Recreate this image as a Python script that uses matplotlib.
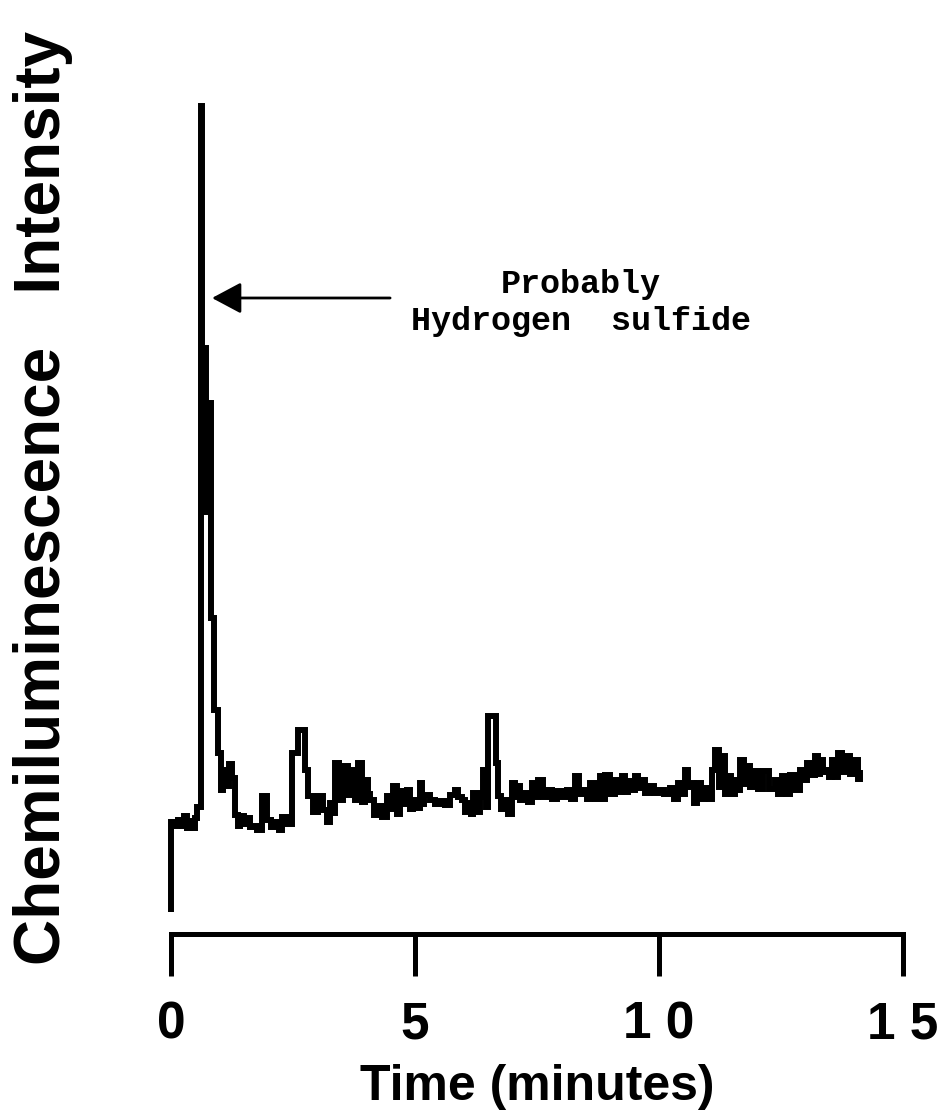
import matplotlib
matplotlib.use("Agg")
import matplotlib.pyplot as plt

# Chemiluminescence detector trace (arbitrary intensity units) vs. time
time_min = [
    0.00, 0.01, 0.08, 0.14, 0.23, 0.27, 0.33, 0.39, 0.45, 0.49, 0.53,
    0.61, 0.64, 0.72, 0.76, 0.82, 0.88, 0.96, 1.02, 1.07, 1.13, 1.19,
    1.25, 1.31, 1.37, 1.41, 1.50, 1.56, 1.62, 1.68, 1.76, 1.86, 1.97,
    2.05, 2.15, 2.21, 2.27, 2.38, 2.48, 2.60, 2.75, 2.81, 2.91, 3.01,
    3.11, 3.20, 3.26, 3.32, 3.36, 3.44, 3.52, 3.63, 3.67, 3.77, 3.83,
    3.91, 3.98, 4.04, 4.08, 4.16, 4.24, 4.32, 4.43, 4.49, 4.55, 4.63,
    4.69, 4.77, 4.84, 4.90, 4.96, 5.04, 5.10, 5.14, 5.18, 5.31, 5.41,
    5.51, 5.61, 5.72, 5.82, 5.88, 5.96, 6.02, 6.09, 6.15, 6.19, 6.29,
    6.33, 6.39, 6.45, 6.50, 6.66, 6.70, 6.76, 6.84, 6.91, 6.99, 7.05,
    7.09, 7.15, 7.21, 7.32, 7.40, 7.46, 7.52, 7.62, 7.70, 7.81, 7.91,
    8.01, 8.11, 8.20, 8.28, 8.36, 8.44, 8.52, 8.59, 8.69, 8.79, 8.85,
    8.89, 9.00, 9.10, 9.16, 9.24, 9.30, 9.36, 9.45, 9.51, 9.57, 9.61,
    9.71, 9.82, 9.90, 9.98, 10.10, 10.23, 10.31, 10.39, 10.47, 10.53,
    10.59, 10.64, 10.72, 10.78, 10.86, 10.94, 11.02, 11.09, 11.15, 11.23,
    11.29, 11.35, 11.39, 11.48, 11.56, 11.62, 11.66, 11.74, 11.80, 11.86,
    11.93, 12.03, 12.13, 12.25, 12.38, 12.44, 12.52, 12.60, 12.68, 12.79,
    12.89, 12.97, 13.03, 13.11, 13.20, 13.26, 13.30, 13.36, 13.40, 13.48,
    13.55, 13.61, 13.67, 13.75, 13.81, 13.91, 14.02, 14.08, 14.12,
]
intensity = [
    2.2, 11.2, 10.8, 11.4, 10.8, 11.8, 10.6, 11.3, 10.6, 11.6, 12.7,
    82.8, 58.6, 42.2, 53.1, 31.6, 22.4, 18.1, 14.4, 16.4, 14.8, 17.0,
    15.6, 11.9, 10.8, 11.8, 11.0, 11.6, 10.7, 10.8, 10.4, 13.8, 11.4,
    10.7, 11.2, 10.4, 11.7, 11.0, 18.1, 20.4, 16.4, 13.8, 12.2, 13.8,
    12.4, 11.2, 13.1, 12.1, 17.1, 13.4, 16.8, 13.9, 16.4, 13.4, 17.1,
    13.2, 15.4, 14.0, 13.4, 11.9, 12.8, 11.7, 13.8, 12.5, 14.8, 12.0,
    14.3, 13.0, 14.4, 12.5, 13.4, 12.6, 15.1, 13.0, 13.9, 13.4, 13.0,
    13.3, 12.9, 13.9, 14.4, 13.7, 13.4, 12.2, 13.1, 12.0, 14.1, 12.2,
    13.7, 16.4, 12.7, 21.8, 17.1, 13.8, 12.5, 13.4, 12.0, 15.1, 13.7,
    14.8, 13.4, 14.1, 13.2, 15.1, 13.7, 15.4, 13.7, 14.4, 13.5, 14.3,
    13.7, 14.4, 13.5, 15.8, 14.0, 14.4, 13.5, 15.1, 13.5, 15.8, 13.5,
    15.9, 14.0, 15.4, 14.2, 15.8, 14.2, 15.3, 14.4, 15.8, 14.6, 15.4,
    14.1, 14.8, 14.1, 14.4, 14.0, 14.6, 13.5, 15.1, 14.0, 16.4,
    14.7, 15.1, 13.1, 15.1, 13.5, 14.6, 13.5, 16.4, 18.4, 14.7,
    17.8, 14.0, 15.8, 14.0, 15.4, 14.4, 17.4, 15.0, 16.8, 14.7,
    16.3, 14.5, 16.3, 14.5, 15.4, 14.0, 15.8, 14.0, 15.9, 14.4,
    16.4, 15.4, 17.1, 15.9, 17.8, 16.0, 17.4, 16.2, 16.4, 15.7,
    17.4, 15.7, 18.1, 16.2, 17.8, 16.0, 17.4, 15.5, 16.4,
]

x_ticks = [0, 5, 10, 15]
x_tick_labels = ["0", "5", "1 0", "1 5"]
x_label = "Time (minutes)"
y_label = "Chemiluminescence   Intensity"
note_text = "Probably\nHydrogen  sulfide"
note_tip = (0.84, 63.6)
note_tail = (4.49, 63.6)
note_pos = (8.40, 63.1)

sans = "Liberation Sans"
mono = "Liberation Mono"

fig = plt.figure(figsize=(9.43, 11.14), dpi=100)
ax = fig.add_axes([0.18134, 0.16158, 0.7762, 0.8079])

ax.plot(time_min, intensity, color="black", lw=4.3,
        drawstyle="steps-post", solid_joinstyle="miter",
        solid_capstyle="butt", clip_on=False)

ax.set_xlim(0, 15)
ax.set_ylim(0, 90)

for side in ("left", "right", "top"):
    ax.spines[side].set_visible(False)
ax.spines["bottom"].set_linewidth(3.6)
ax.spines["bottom"].set_capstyle("projecting")

ax.set_yticks([])
ax.set_xticks(x_ticks)
ax.set_xticklabels(x_tick_labels, fontfamily=sans, fontweight="bold",
                   fontsize=37)
ax.tick_params(axis="x", direction="out", length=30, width=3.6, pad=18,
               color="black")

ax.set_xlabel(x_label, fontfamily=sans, fontweight="bold", fontsize=36,
              labelpad=10)

fig.text(0.046, 0.553, y_label, rotation=90, ha="center", va="center",
         fontfamily=sans, fontweight="bold", fontsize=46)

ax.annotate("", xy=note_tip, xytext=note_tail,
            arrowprops=dict(arrowstyle="-|>,head_length=0.9,head_width=0.48",
                            mutation_scale=20, lw=2, color="black",
                            shrinkA=0, shrinkB=0))
ax.text(*note_pos, note_text, ha="center", va="center", fontfamily=mono,
        fontweight="bold", fontsize=24, linespacing=1.25)

fig.savefig("out.png", dpi=100, facecolor="white")
